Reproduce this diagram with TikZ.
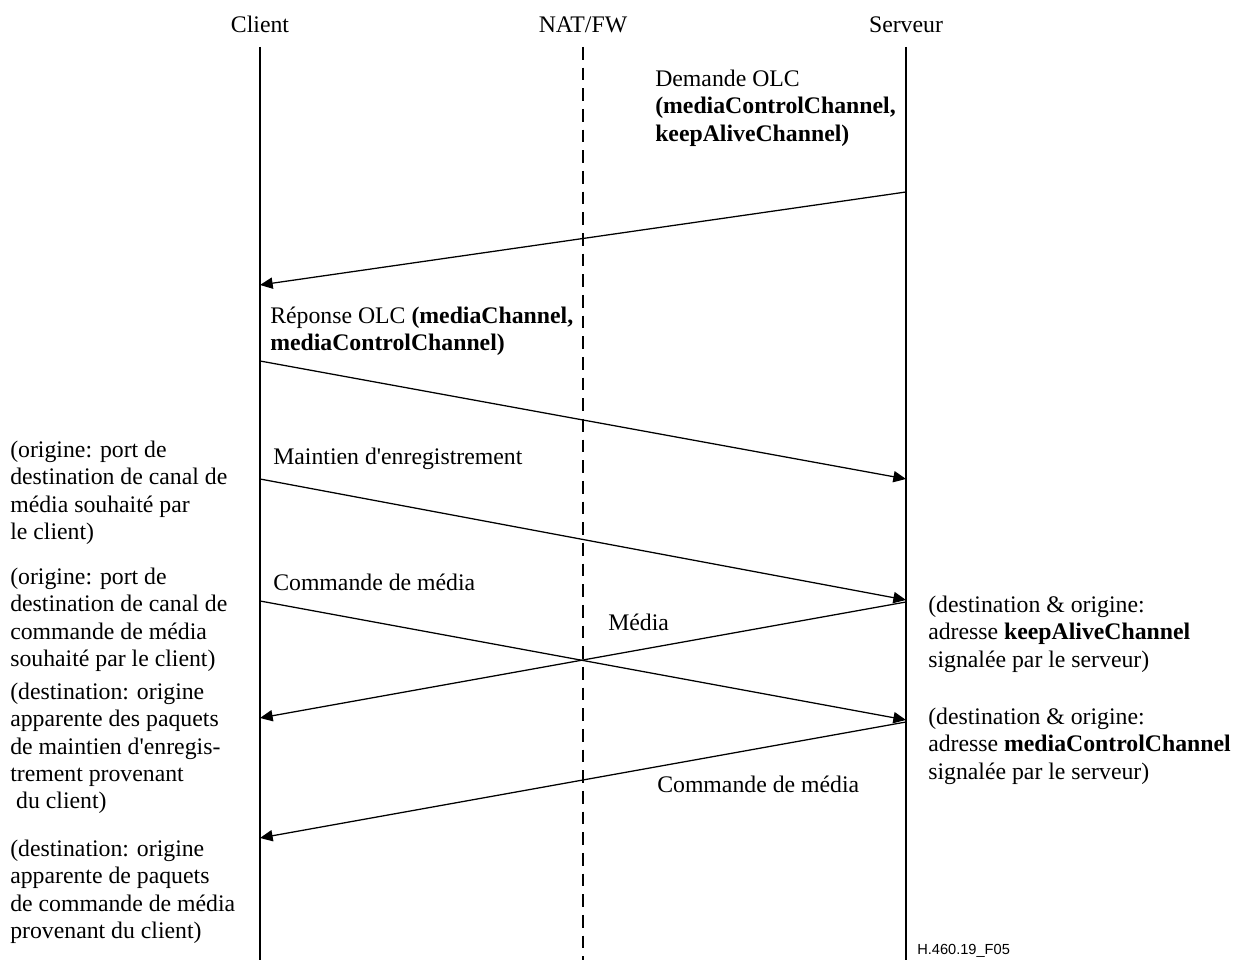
\documentclass[tikz,border=0pt]{standalone}
\usepackage{fontspec}
\setmainfont{Liberation Serif}
\newfontfamily\tagfont{Liberation Sans}
\usetikzlibrary{arrows.meta}
\pgfdeclarelayer{bg}
\pgfsetlayers{bg,main}
\tikzset{
    every node/.style={inner sep=0mm, align=left, font=\fontsize{16.9pt}{19.4pt}\selectfont}
}
\tikzset{lifeline/.style={line width=1.9pt}}
\tikzset{fwline/.style={line width=1.6pt, dash pattern=on 9pt off 5.7pt}}
\tikzset{msg/.style={line width=0.9pt, -{Triangle[length=9pt,width=8pt]}}}

\begin{document}
\begin{tikzpicture}
        \useasboundingbox (0cm, 0cm) rectangle (30.875000cm, 24.000000cm);
        \node (h0) [anchor=base] at (6.500000cm, 23.175000cm) {Client};
        \node (h1) [anchor=base] at (14.575000cm, 23.175000cm) {NAT/FW};
        \node (h2) [anchor=base] at (22.650000cm, 23.175000cm) {Serveur};
        \coordinate (l0) at (6.500000cm, 22.825000cm);
        \coordinate (l1) at (6.500000cm, 0.000000cm);
        \coordinate (l2) at (14.575000cm, 22.825000cm);
        \coordinate (l3) at (14.575000cm, 0.000000cm);
        \coordinate (l4) at (22.650000cm, 22.825000cm);
        \coordinate (l5) at (22.650000cm, 0.000000cm);
        \node (m0) [anchor=north west] at (16.375000cm, 22.255000cm) {Demande OLC\\\textbf{(mediaControlChannel,}\\\textbf{keepAliveChannel)}};
        \node (m1) [anchor=north west] at (6.750000cm, 16.330000cm) {Réponse OLC \textbf{(mediaChannel,}\\\textbf{mediaControlChannel)}};
        \node (m2) [anchor=base west] at (6.825000cm, 12.375000cm) {Maintien d\textquotesingle enregistrement};
        \node (m3) [anchor=base west] at (6.825000cm, 9.225000cm) {Commande de média};
        \node (m4) [anchor=base west] at (15.200000cm, 8.225000cm) {Média};
        \node (m5) [anchor=base west] at (16.425000cm, 4.175000cm) {Commande de média};
        \node (n0) [anchor=north west] at (0.250000cm, 12.980000cm) {(origine: port de\\destination de canal de\\média souhaité par\\le client)};
        \node (n1) [anchor=north west] at (0.250000cm, 9.805000cm) {(origine: port de\\destination de canal de\\commande de média\\souhaité par le client)};
        \node (n2) [anchor=north west] at (0.250000cm, 6.930000cm) {(destination: origine\\apparente des paquets\\de maintien d\textquotesingle enregis-\\trement provenant\\\ du client)};
        \node (n3) [anchor=north west] at (0.250000cm, 3.005000cm) {(destination: origine\\apparente de paquets\\de commande de média\\provenant du client)};
        \node (n4) [anchor=north west] at (23.200000cm, 9.105000cm) {(destination \& origine:\\adresse \textbf{keepAliveChannel}\\signalée par le serveur)};
        \node (n5) [anchor=north west] at (23.200000cm, 6.305000cm) {(destination \& origine:\\adresse \textbf{mediaControlChannel}\\signalée par le serveur)};
        \node (f0) [anchor=base west, font=\tagfont\fontsize{10.4pt}{12pt}\selectfont] at (22.925000cm, 0.125000cm) {H.460.19\_F05};
        \coordinate (a0) at (22.650000cm, 19.200000cm);
        \coordinate (a1) at (6.500000cm, 16.875000cm);
        \coordinate (a2) at (6.500000cm, 14.975000cm);
        \coordinate (a3) at (22.650000cm, 12.025000cm);
        \coordinate (a4) at (6.500000cm, 12.025000cm);
        \coordinate (a5) at (22.650000cm, 9.000000cm);
        \coordinate (a6) at (6.500000cm, 8.975000cm);
        \coordinate (a7) at (22.650000cm, 6.000000cm);
        \coordinate (a8) at (22.650000cm, 8.950000cm);
        \coordinate (a9) at (6.500000cm, 6.050000cm);
        \coordinate (a10) at (22.650000cm, 5.950000cm);
        \coordinate (a11) at (6.500000cm, 3.050000cm);
        \begin{pgfonlayer}{bg}
                \draw (l0) edge [lifeline] (l1);
                \draw (l2) edge [fwline] (l3);
                \draw (l4) edge [lifeline] (l5);
                \draw (a0) edge [msg] (a1);
                \draw (a2) edge [msg] (a3);
                \draw (a4) edge [msg] (a5);
                \draw (a6) edge [msg] (a7);
                \draw (a8) edge [msg] (a9);
                \draw (a10) edge [msg] (a11);
        \end{pgfonlayer}
\end{tikzpicture}
\end{document}
